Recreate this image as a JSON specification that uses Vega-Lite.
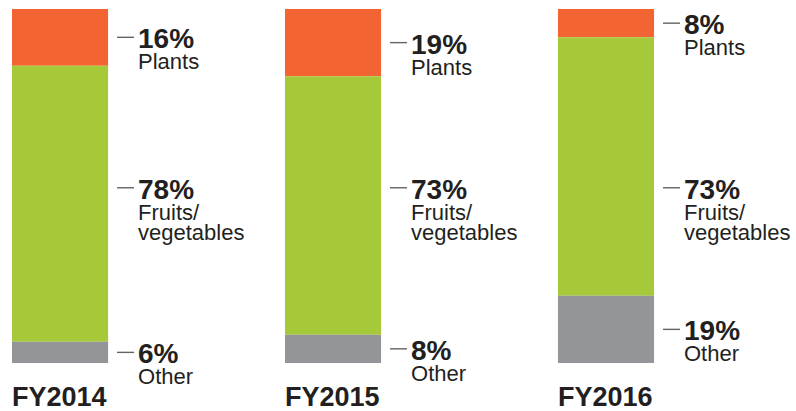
{
  "$schema": "https://vega.github.io/schema/vega-lite/v6.json",
  "width": 796,
  "height": 354,
  "autosize": {"type": "none"},
  "padding": {"top": 9, "bottom": 48, "left": 0, "right": 0},
  "background": "#ffffff",
  "config": {"view": {"stroke": null}, "text": {"font": "Liberation Sans", "color": "#231F20"}},
  "data": {"values": [
    {"year": "FY2014", "category": "Plants", "value": 16},
    {"year": "FY2014", "category": "Fruits/vegetables", "value": 78},
    {"year": "FY2014", "category": "Other", "value": 6},
    {"year": "FY2015", "category": "Plants", "value": 19},
    {"year": "FY2015", "category": "Fruits/vegetables", "value": 73},
    {"year": "FY2015", "category": "Other", "value": 8},
    {"year": "FY2016", "category": "Plants", "value": 8},
    {"year": "FY2016", "category": "Fruits/vegetables", "value": 73},
    {"year": "FY2016", "category": "Other", "value": 19}
  ]},
  "transform": [
    {"calculate": "indexof(['Other','Fruits/vegetables','Plants'], datum.category)", "as": "stackKey"},
    {"stack": "value", "groupby": ["year"], "sort": [{"field": "stackKey", "order": "ascending"}], "as": ["y0", "y1"]},
    {"calculate": "datum.category === 'Fruits/vegetables' ? 49.5 : (datum.y0 + datum.y1) / 2", "as": "labelY"},
    {"calculate": "datum.value + '%'", "as": "pct"},
    {"calculate": "datum.category === 'Fruits/vegetables' ? 'Fruits/\\nvegetables' : datum.category", "as": "name"}
  ],
  "encoding": {
    "x": {
      "field": "year", "type": "nominal", "axis": null,
      "scale": {"type": "band", "domain": ["FY2014", "FY2015", "FY2016"], "paddingInner": 0.648, "paddingOuter": 0.282, "align": 0.078}
    }
  },
  "layer": [
    {
      "mark": {"type": "bar"},
      "encoding": {
        "y": {"field": "y0", "type": "quantitative", "axis": null, "scale": {"domain": [0, 100], "nice": false}},
        "y2": {"field": "y1"},
        "color": {
          "field": "category", "type": "nominal", "legend": null,
          "scale": {"domain": ["Plants", "Fruits/vegetables", "Other"], "range": ["#F26432", "#A6C93A", "#939598"]}
        }
      }
    },
    {
      "mark": {"type": "tick", "xOffset": 65.5, "size": 17, "thickness": 1.4, "color": "#231F20", "orient": "horizontal"},
      "encoding": {"y": {"field": "labelY", "type": "quantitative"}}
    },
    {
      "mark": {"type": "text", "align": "left", "baseline": "alphabetic", "dx": 78, "dy": 11, "fontSize": 28, "fontWeight": "bold"},
      "encoding": {"y": {"field": "labelY", "type": "quantitative"}, "text": {"field": "pct"}}
    },
    {
      "mark": {"type": "text", "align": "left", "baseline": "alphabetic", "dx": 78, "dy": 32, "fontSize": 22, "lineBreak": "\n", "lineHeight": 20},
      "encoding": {"y": {"field": "labelY", "type": "quantitative"}, "text": {"field": "name"}}
    },
    {
      "transform": [{"filter": "datum.category === 'Plants'"}],
      "mark": {"type": "text", "align": "left", "baseline": "alphabetic", "dx": -48, "dy": 43, "fontSize": 27, "fontWeight": "bold"},
      "encoding": {"y": {"datum": 0, "type": "quantitative"}, "text": {"field": "year"}}
    }
  ]
}
